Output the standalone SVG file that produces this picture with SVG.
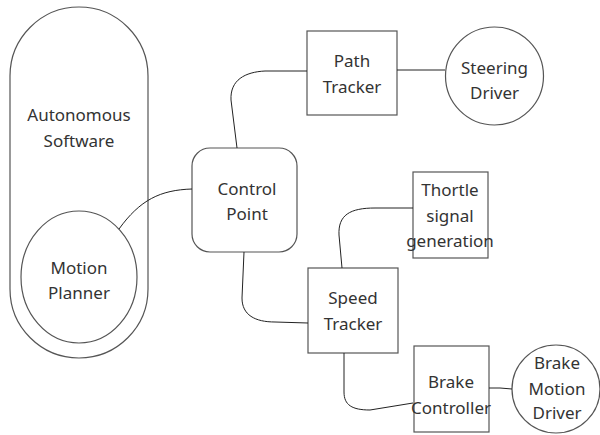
<svg xmlns="http://www.w3.org/2000/svg" width="600" height="435" viewBox="0 0 600 435">
<style>
.s{fill:#fff;stroke:#555;stroke-width:1.2}
.c{fill:none;stroke:#222;stroke-width:1}
text{font-family:"Noto Sans","Open Sans",sans-serif;font-size:17px;fill:#333;text-anchor:middle;dominant-baseline:central}
</style>
<rect width="600" height="435" fill="#fff"/>
<g id="autonomous-software">
<rect class="s" x="10" y="7" width="138" height="351" rx="69" ry="69"/>
<text x="79" y="114">Autonomous</text>
<text x="79" y="140">Software</text>
</g>
<g id="motion-planner">
<ellipse class="s" cx="79" cy="277" rx="58" ry="66"/>
<text x="79" y="267">Motion</text>
<text x="79" y="292">Planner</text>
</g>
<g id="control-point">
<rect class="s" x="192" y="148" width="105" height="104" rx="18" ry="18"/>
<text x="247" y="188">Control</text>
<text x="247" y="213">Point</text>
</g>
<g id="path-tracker">
<rect class="s" x="307" y="31" width="90" height="84"/>
<text x="352" y="60">Path</text>
<text x="352" y="86">Tracker</text>
</g>
<g id="steering-driver">
<circle class="s" cx="494.5" cy="76" r="49"/>
<text x="494.5" y="67">Steering</text>
<text x="494.5" y="92">Driver</text>
</g>
<g id="throttle">
<rect class="s" x="413" y="172" width="75" height="86"/>
<text x="450" y="189">Thortle</text>
<text x="450" y="215">signal</text>
<text x="450" y="240">generation</text>
</g>
<g id="speed-tracker">
<rect class="s" x="308" y="268" width="90" height="85"/>
<text x="353" y="297">Speed</text>
<text x="353" y="323">Tracker</text>
</g>
<g id="brake-controller">
<rect class="s" x="414" y="346" width="75" height="86"/>
<text x="451" y="381">Brake</text>
<text x="451" y="407">Controller</text>
</g>
<g id="brake-motion-driver">
<circle class="s" cx="556" cy="389" r="44"/>
<text x="557" y="362">Brake</text>
<text x="557" y="388">Motion</text>
<text x="557" y="412">Driver</text>
</g>
<g id="connectors">
<path class="c" d="M119,229 C140,200 160,190 192,189"/>
<path class="c" d="M237,148 L231,100 C230,80 245,72 265,71 L307,71"/>
<path class="c" d="M397,70 L421,70 L445,70"/>
<path class="c" d="M244,252 L242,298 C242,315 255,322 275,322 L308,323"/>
<path class="c" d="M342,268 L339,235 C338,215 350,208 375,208 L413,208"/>
<path class="c" d="M344,353 L344,392 C344,405 352,410 370,410 L413,403"/>
<path class="c" d="M489,388 L500,388 L512,389"/>
</g>
</svg>
